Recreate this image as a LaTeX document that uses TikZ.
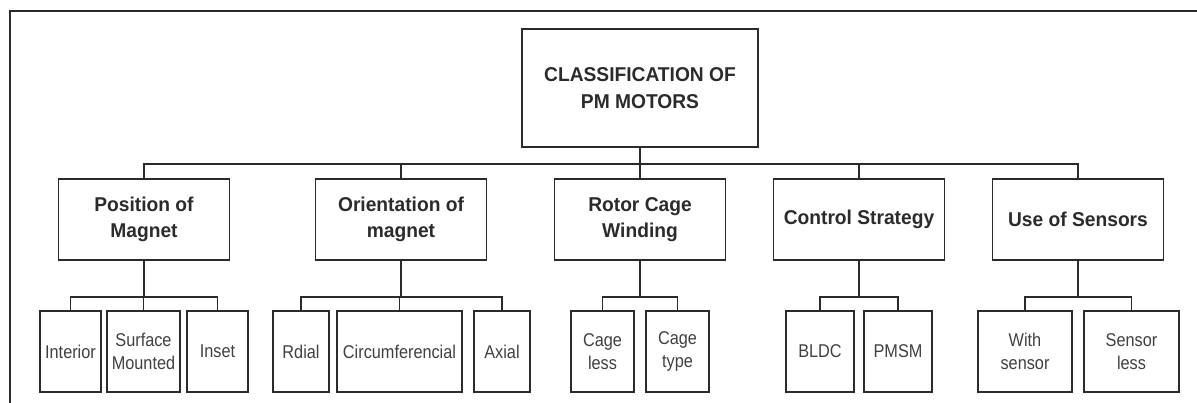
\documentclass[tikz,border=0pt]{standalone}
\usepackage{fontspec}
\setmainfont{Liberation Sans}
\newfontfamily\catfont[FakeStretch=0.96]{Liberation Sans}
\newfontfamily\leaffont[FakeStretch=0.88]{Liberation Sans}
\usetikzlibrary{positioning}
\definecolor{inkgray}{HTML}{2B2B2B}

\begin{document}
\begin{tikzpicture}[x=1pt, y=-1pt,
  mainbox/.style={rectangle, draw=inkgray, line width=1.6pt, text=inkgray,
                  minimum width=236pt, minimum height=118pt, inner sep=0pt,
                  font=\catfont\fontsize{20}{27}\selectfont\bfseries, align=center},
  catbox/.style={rectangle, draw=inkgray, line width=1.6pt, text=inkgray,
                 minimum width=171pt, minimum height=81pt, inner sep=0pt,
                 font=\catfont\fontsize{20}{26}\selectfont\bfseries, align=center},
  leafbox/.style={rectangle, draw=inkgray, line width=1.6pt, text=inkgray!90,
                  minimum height=81pt, inner sep=0pt,
                  font=\leaffont\fontsize{18.5}{23}\selectfont, align=center},
  link/.style={draw=inkgray, line width=1.6pt}
]
\useasboundingbox (0,0) rectangle (1197,403);
\draw[link] (10,403) -- (10,11) -- (1197,11);

% root and categories
\node[mainbox] (root) at (640,88) {CLASSIFICATION OF\\PM MOTORS};
\node[catbox] (posmag)  at (144,219.5)  {Position of\\Magnet};
\node[catbox] (orimag)  at (401,219.5)  {Orientation of\\magnet};
\node[catbox] (rotcage) at (640,219.5)  {Rotor Cage\\Winding};
\node[catbox] (ctrlstr) at (859,219.5)  {Control Strategy};
\node[catbox] (usesens) at (1078,219.5) {Use of Sensors};

% leaves
\node[leafbox, minimum width=61pt]  (interior) at (70.5,351.5)  {Interior};
\node[leafbox, minimum width=73pt]  (surface)  at (143.5,351.5) {Surface\\Mounted};
\node[leafbox, minimum width=61pt]  (inset)    at (217.5,351.5) {Inset};
\node[leafbox, minimum width=56pt]  (rdial)    at (301,351.5)   {Rdial};
\node[leafbox, minimum width=125pt] (circum)   at (399.5,351.5) {Circumferencial};
\node[leafbox, minimum width=56pt]  (axial)    at (502,351.5)   {Axial};
\node[leafbox, minimum width=63pt]  (cageless) at (602.5,351.5) {Cage\\less};
\node[leafbox, minimum width=63pt]  (cagetype) at (677.5,351.5) {Cage\\type};
\node[leafbox, minimum width=68pt]  (bldc)     at (820,351.5)   {BLDC};
\node[leafbox, minimum width=68pt]  (pmsm)     at (898,351.5)   {PMSM};
\node[leafbox, minimum width=94pt]  (withsens) at (1025,351.5)  {With\\sensor};
\node[leafbox, minimum width=95pt]  (sensless) at (1131.5,351.5) {Sensor\\less};

% connectors
\foreach \c in {posmag,orimag,rotcage,ctrlstr,usesens}
  \draw[link] (root.south) -- ++(0,16) -| (\c.north);
\foreach \p/\c in {posmag/interior, posmag/surface, posmag/inset,
                   orimag/rdial, orimag/circum, orimag/axial,
                   rotcage/cageless, rotcage/cagetype,
                   ctrlstr/bldc, ctrlstr/pmsm,
                   usesens/withsens, usesens/sensless}
  \draw[link] (\p.south) -- ++(0,36) -| (\c.north);
\end{tikzpicture}
\end{document}
